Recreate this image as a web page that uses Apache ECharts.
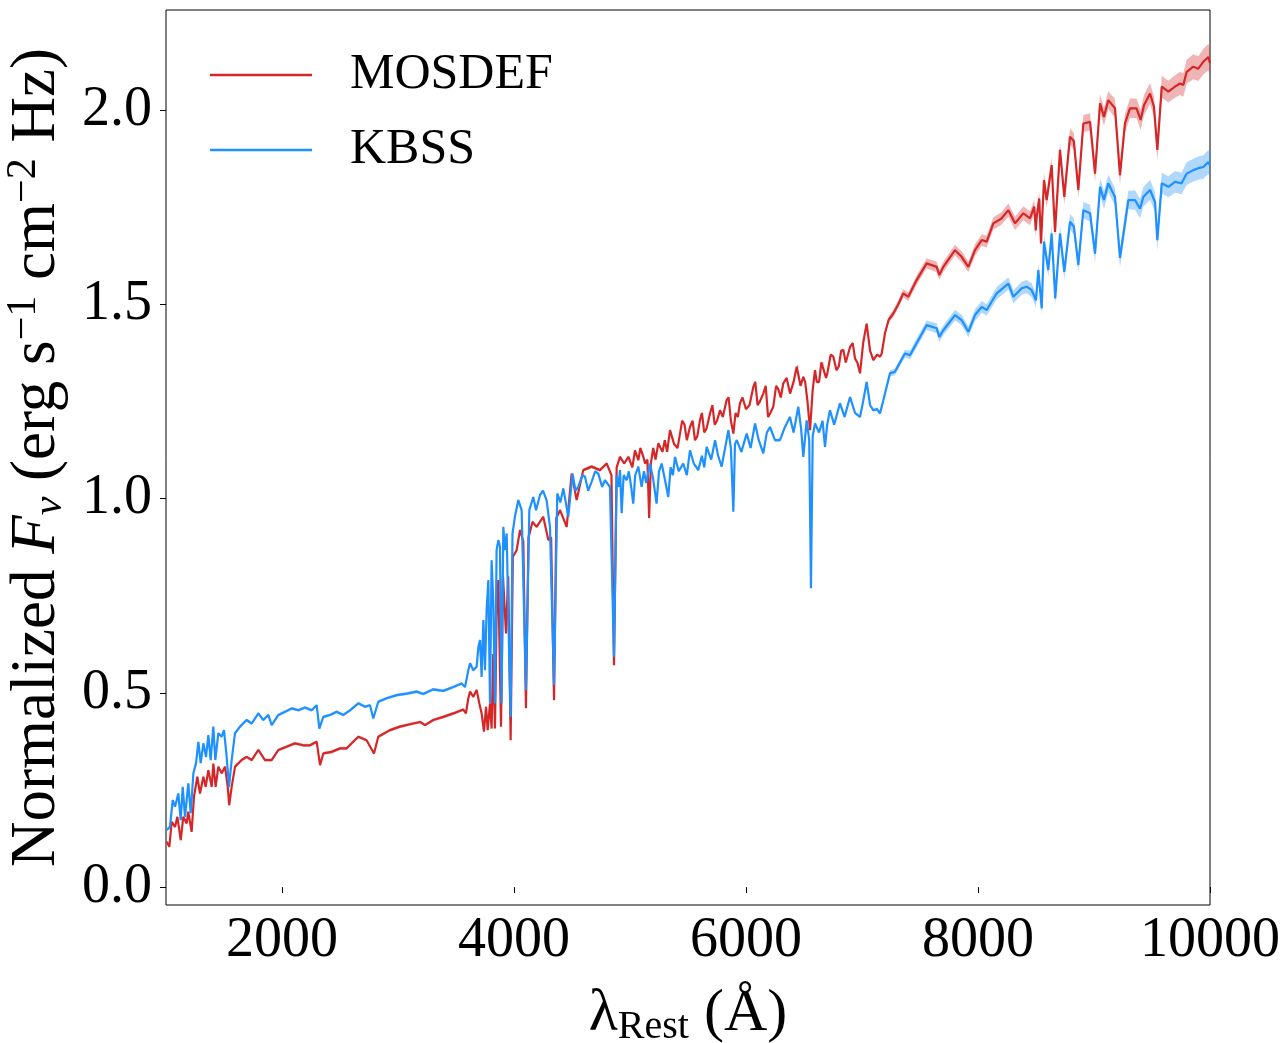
<!DOCTYPE html>
<html><head><meta charset="utf-8">
<script src="https://cdn.jsdelivr.net/npm/echarts@6/dist/echarts.min.js"></script>
<style>html,body{margin:0;padding:0;background:#fff}#c{width:1280px;height:1043px}</style>
</head><body><div id="c"></div>
<script>
// ---- data ----
const seriesNames = ['MOSDEF', 'KBSS'];
const xTicks = [2000, 4000, 6000, 8000, 10000];
const yTicks = [0, 0.5, 1.0, 1.5, 2.0];
// [rest wavelength (Å), normalized F_nu, 1-sigma band half width]
const mosdef = [
[1006,0.117,0.004],[1029,0.104,0.004],[1049,0.168,0.004],[1078,0.155,0.004],[1098,0.181,0.004],[1127,0.121,0.004],
[1149,0.181,0.004],[1178,0.164,0.004],[1192,0.194,0.004],[1221,0.142,0.004],[1241,0.232,0.004],[1270,0.284,0.004],
[1293,0.241,0.004],[1322,0.284,0.004],[1342,0.258,0.004],[1365,0.301,0.004],[1394,0.258,0.004],[1408,0.318,0.004],
[1428,0.258,0.004],[1451,0.31,0.004],[1480,0.293,0.004],[1509,0.31,0.004],[1532,0.258,0.004],[1545,0.211,0.004],
[1566,0.258,0.004],[1595,0.31,0.004],[1652,0.327,0.004],[1695,0.335,0.004],[1739,0.327,0.004],[1796,0.353,0.004],
[1853,0.327,0.004],[1911,0.327,0.004],[1969,0.353,0.004],[2039,0.361,0.004],[2112,0.37,0.004],[2184,0.365,0.004],
[2241,0.365,0.004],[2299,0.374,0.004],[2328,0.314,0.004],[2356,0.344,0.004],[2428,0.348,0.004],[2500,0.357,0.004],
[2557,0.357,0.004],[2601,0.37,0.004],[2658,0.387,0.004],[2729,0.378,0.004],[2793,0.344,0.004],[2830,0.387,0.004],
[2931,0.404,0.004],[3017,0.413,0.004],[3103,0.419,0.004],[3190,0.425,0.004],[3233,0.417,0.004],[3304,0.43,0.004],
[3391,0.438,0.004],[3477,0.447,0.004],[3563,0.457,0.004],[3586,0.447,0.004],[3606,0.486,0.004],[3621,0.503,0.004],
[3649,0.49,0.004],[3678,0.507,0.004],[3701,0.473,0.004],[3721,0.447,0.004],[3741,0.40,0.004],[3759,0.464,0.004],
[3773,0.404,0.004],[3793,0.473,0.004],[3807,0.408,0.004],[3821,0.60,0.004],[3836,0.408,0.004],[3850,0.70,0.004],
[3865,0.79,0.004],[3888,0.413,0.004],[3905,0.80,0.004],[3931,0.653,0.004],[3950,0.80,0.004],[3971,0.378,0.004],
[3990,0.85,0.004],[4023,0.867,0.004],[4052,0.919,0.004],[4080,0.89,0.004],[4103,0.46,0.004],[4125,0.90,0.004],
[4160,0.94,0.004],[4195,0.927,0.004],[4252,0.953,0.004],[4296,0.893,0.004],[4320,0.90,0.004],[4345,0.481,0.004],
[4365,0.95,0.004],[4397,0.97,0.004],[4454,0.927,0.004],[4497,1.064,0.004],[4540,0.996,0.004],[4597,1.073,0.004],
[4669,1.082,0.004],[4741,1.073,0.004],[4799,1.09,0.004],[4840,1.06,0.004],[4862,0.571,0.004],[4885,1.08,0.004],
[4914,1.107,0.004],[4950,1.09,0.004],[4986,1.107,0.004],[5000,1.103,0.004],[5020,1.08,0.004],[5043,1.124,0.004],
[5072,1.099,0.004],[5090,1.13,0.004],[5115,1.107,0.004],[5130,1.09,0.004],[5150,1.10,0.004],[5165,0.95,0.004],
[5180,1.09,0.004],[5200,1.13,0.004],[5220,1.10,0.004],[5244,1.142,0.004],[5280,1.12,0.004],[5300,1.15,0.004],
[5320,1.12,0.004],[5345,1.176,0.004],[5380,1.14,0.004],[5410,1.13,0.004],[5431,1.167,0.004],[5450,1.20,0.004],
[5470,1.19,0.004],[5490,1.15,0.004],[5517,1.184,0.004],[5540,1.20,0.004],[5560,1.15,0.004],[5580,1.16,0.004],
[5603,1.201,0.004],[5620,1.22,0.004],[5640,1.17,0.004],[5660,1.18,0.004],[5690,1.219,0.004],[5710,1.24,0.004],
[5730,1.19,0.004],[5750,1.20,0.004],[5776,1.227,0.004],[5800,1.21,0.004],[5833,1.253,0.004],[5850,1.26,0.004],
[5870,1.20,0.004],[5891,1.167,0.004],[5910,1.22,0.004],[5930,1.21,0.004],[5948,1.245,0.004],[5970,1.26,0.004],
[6000,1.23,0.004],[6030,1.24,0.004],[6063,1.287,0.004],[6080,1.30,0.004],[6100,1.24,0.004],[6120,1.25,0.004],
[6149,1.27,0.004],[6170,1.29,0.004],[6190,1.21,0.004],[6210,1.22,0.004],[6235,1.236,0.004],[6260,1.29,0.004],
[6280,1.28,0.004],[6300,1.26,0.004],[6321,1.296,0.004],[6350,1.31,0.004],[6380,1.27,0.004],[6410,1.30,0.004],
[6437,1.339,0.004],[6450,1.34,0.004],[6470,1.29,0.004],[6494,1.313,0.004],[6510,1.30,0.004],[6530,1.25,0.004],
[6552,1.176,0.004],[6575,1.28,0.004],[6595,1.33,0.004],[6610,1.30,0.004],[6630,1.30,0.004],[6650,1.35,0.004],
[6667,1.347,0.004],[6690,1.31,0.004],[6700,1.32,0.004],[6730,1.37,0.004],[6753,1.365,0.004],[6780,1.33,0.004],
[6800,1.34,0.004],[6820,1.38,0.004],[6839,1.382,0.004],[6860,1.35,0.004],[6897,1.39,0.004],[6920,1.40,0.004],
[6940,1.36,0.004],[6960,1.35,0.004],[6983,1.322,0.004],[7010,1.40,0.004],[7040,1.45,0.004],[7070,1.38,0.004],
[7098,1.356,0.004],[7130,1.37,0.004],[7155,1.365,0.004],[7170,1.373,0.004],
[7198,1.425,0.006],[7230,1.46,0.008],[7270,1.476,0.009],[7313,1.50,0.01],[7356,1.528,0.011],[7399,1.519,0.011],
[7471,1.562,0.012],[7557,1.605,0.013],[7644,1.596,0.013],[7666,1.575,0.013],[7701,1.596,0.013],[7802,1.639,0.014],
[7859,1.622,0.014],[7917,1.596,0.014],[7974,1.639,0.015],[8032,1.665,0.015],[8075,1.661,0.015],[8132,1.708,0.016],
[8200,1.72,0.016],[8262,1.742,0.017],[8319,1.708,0.017],[8391,1.734,0.018],[8448,1.721,0.018],[8485,1.751,0.018],
[8498,1.69,0.018],[8506,1.725,0.018],[8528,1.772,0.019],[8543,1.656,0.019],[8569,1.819,0.019],[8592,1.768,0.019],
[8635,1.858,0.02],[8664,1.686,0.02],[8707,1.897,0.02],[8744,1.776,0.02],[8793,1.931,0.021],[8826,1.92,0.021],
[8865,1.794,0.021],[8908,1.965,0.022],[8966,1.969,0.022],[9009,1.836,0.022],[9052,2.017,0.023],[9086,1.982,0.023],
[9123,2.025,0.023],[9181,2.004,0.024],[9224,1.832,0.024],[9267,1.965,0.024],[9310,2.004,0.025],[9367,2.004,0.025],
[9402,1.974,0.026],[9431,2.012,0.026],[9483,2.042,0.027],[9517,2.008,0.027],[9546,1.897,0.027],[9584,2.06,0.028],
[9641,2.047,0.028],[9698,2.06,0.029],[9741,2.068,0.03],[9770,2.064,0.03],[9799,2.098,0.031],[9856,2.111,0.032],
[9899,2.106,0.032],[9943,2.124,0.033],[9986,2.136,0.034],[10000,2.12,0.034]
];
const kbss = [
[1006,0.147,0.004],[1034,0.155,0.004],[1058,0.224,0.004],[1078,0.207,0.004],[1106,0.241,0.004],[1127,0.172,0.004],
[1144,0.258,0.004],[1164,0.181,0.004],[1192,0.267,0.004],[1213,0.19,0.004],[1236,0.293,0.004],[1259,0.319,0.004],
[1279,0.374,0.004],[1299,0.319,0.004],[1322,0.37,0.004],[1345,0.335,0.004],[1365,0.391,0.004],[1385,0.327,0.004],
[1408,0.413,0.004],[1425,0.327,0.004],[1451,0.396,0.004],[1480,0.387,0.004],[1500,0.404,0.004],[1523,0.335,0.004],
[1543,0.258,0.004],[1566,0.327,0.004],[1595,0.396,0.004],[1638,0.413,0.004],[1695,0.43,0.004],[1739,0.421,0.004],
[1796,0.447,0.004],[1839,0.43,0.004],[1882,0.443,0.004],[1911,0.417,0.004],[1969,0.443,0.004],[2026,0.451,0.004],
[2084,0.46,0.004],[2141,0.455,0.004],[2198,0.462,0.004],[2256,0.455,0.004],[2299,0.468,0.004],[2322,0.408,0.004],
[2356,0.438,0.004],[2414,0.443,0.004],[2471,0.451,0.004],[2529,0.443,0.004],[2586,0.455,0.004],[2658,0.473,0.004],
[2716,0.464,0.004],[2759,0.468,0.004],[2787,0.434,0.004],[2830,0.477,0.004],[2902,0.486,0.004],[2989,0.494,0.004],
[3075,0.498,0.004],[3161,0.503,0.004],[3218,0.497,0.004],[3304,0.509,0.004],[3391,0.505,0.004],[3477,0.515,0.004],
[3549,0.524,0.004],[3578,0.515,0.004],[3606,0.558,0.004],[3621,0.576,0.004],[3649,0.558,0.004],[3678,0.567,0.004],
[3693,0.618,0.004],[3707,0.636,0.004],[3721,0.541,0.004],[3736,0.687,0.004],[3750,0.558,0.004],[3764,0.713,0.004],
[3779,0.79,0.004],[3793,0.473,0.004],[3807,0.841,0.004],[3821,0.738,0.004],[3836,0.473,0.004],[3850,0.867,0.004],
[3865,0.893,0.004],[3879,0.876,0.004],[3893,0.473,0.004],[3908,0.927,0.004],[3922,0.867,0.004],[3937,0.91,0.004],
[3951,0.695,0.004],[3971,0.438,0.004],[3987,0.91,0.004],[4008,0.953,0.004],[4037,0.996,0.004],[4066,0.97,0.004],
[4103,0.507,0.004],[4132,0.97,0.004],[4166,1.004,0.004],[4190,0.97,0.004],[4224,1.009,0.004],[4250,1.02,0.004],
[4281,0.996,0.004],[4310,0.927,0.004],[4345,0.52,0.004],[4373,1.013,0.004],[4400,0.99,0.004],[4425,1.026,0.004],
[4468,0.953,0.004],[4505,1.064,0.004],[4530,1.02,0.004],[4554,1.03,0.004],[4590,1.06,0.004],[4612,1.056,0.004],
[4640,1.02,0.004],[4669,1.043,0.004],[4700,1.07,0.004],[4727,1.064,0.004],[4760,1.03,0.004],[4784,1.047,0.004],
[4827,1.03,0.004],[4862,0.593,0.004],[4885,1.06,0.004],[4900,1.03,0.004],[4914,1.073,0.004],[4928,0.962,0.004],
[4945,1.06,0.004],[4971,1.047,0.004],[4990,1.07,0.004],[5010,1.03,0.004],[5028,0.987,0.004],[5045,1.06,0.004],
[5072,1.082,0.004],[5100,1.03,0.004],[5120,1.07,0.004],[5140,1.04,0.004],[5172,1.09,0.004],[5200,1.05,0.004],
[5229,0.987,0.004],[5250,1.07,0.004],[5273,1.09,0.004],[5300,1.05,0.004],[5330,1.004,0.004],[5350,1.08,0.004],
[5370,1.06,0.004],[5388,1.107,0.004],[5420,1.07,0.004],[5459,1.09,0.004],[5490,1.06,0.004],[5517,1.124,0.004],
[5550,1.09,0.004],[5589,1.073,0.004],[5620,1.11,0.004],[5640,1.08,0.004],[5661,1.133,0.004],[5700,1.10,0.004],
[5733,1.15,0.004],[5760,1.11,0.004],[5790,1.082,0.004],[5820,1.13,0.004],[5848,1.176,0.004],[5870,1.13,0.004],
[5891,0.966,0.004],[5905,1.14,0.004],[5920,1.15,0.004],[5960,1.12,0.004],[6006,1.167,0.004],[6040,1.13,0.004],
[6078,1.193,0.004],[6110,1.15,0.004],[6149,1.116,0.004],[6180,1.17,0.004],[6207,1.184,0.004],[6250,1.15,0.004],
[6293,1.15,0.004],[6330,1.18,0.004],[6379,1.21,0.004],[6410,1.17,0.004],[6451,1.236,0.004],[6475,1.18,0.004],
[6494,1.107,0.004],[6523,1.201,0.004],[6545,1.15,0.004],[6560,0.769,0.004],[6575,1.16,0.004],[6595,1.193,0.004],
[6630,1.17,0.004],[6660,1.20,0.004],[6681,1.133,0.004],[6700,1.19,0.004],[6724,1.227,0.004],[6760,1.19,0.004],
[6810,1.245,0.004],[6850,1.21,0.004],[6897,1.261,0.004],[6940,1.22,0.004],[6983,1.21,0.004],[7010,1.25,0.004],
[7040,1.30,0.004],[7070,1.24,0.004],[7098,1.227,0.004],[7130,1.23,0.004],[7155,1.219,0.004],
[7184,1.253,0.006],[7241,1.322,0.008],
[7284,1.326,0.009],[7370,1.373,0.01],[7414,1.369,0.011],[7486,1.408,0.012],[7557,1.446,0.012],[7644,1.438,0.013],
[7666,1.416,0.013],[7701,1.433,0.013],[7802,1.472,0.014],[7859,1.459,0.014],[7917,1.429,0.014],[7974,1.472,0.015],
[8032,1.493,0.015],[8075,1.485,0.015],[8161,1.528,0.016],[8262,1.553,0.016],[8305,1.519,0.017],[8377,1.541,0.017],
[8420,1.545,0.017],[8463,1.536,0.018],[8500,1.51,0.018],[8520,1.588,0.018],[8549,1.489,0.018],[8569,1.661,0.019],
[8606,1.588,0.019],[8635,1.682,0.019],[8666,1.515,0.019],[8707,1.682,0.02],[8744,1.583,0.02],[8793,1.712,0.02],
[8826,1.70,0.021],[8865,1.601,0.021],[8908,1.742,0.021],[8966,1.734,0.022],[9009,1.63,0.022],[9052,1.802,0.022],
[9086,1.768,0.023],[9123,1.811,0.023],[9181,1.776,0.023],[9224,1.619,0.024],[9296,1.768,0.024],[9353,1.768,0.025],
[9397,1.746,0.025],[9425,1.776,0.025],[9483,1.794,0.026],[9526,1.763,0.026],[9546,1.665,0.026],[9584,1.811,0.027],
[9641,1.802,0.027],[9698,1.815,0.028],[9755,1.811,0.028],[9799,1.836,0.029],[9856,1.845,0.029],[9899,1.85,0.03],
[9943,1.853,0.03],[9986,1.866,0.031],[10000,1.857,0.031]
];

// ---- chart ----
const FONT = '"Liberation Serif", "DejaVu Serif", serif';
const RED = '#d62728', BLUE = '#1e90ff';
const chart = echarts.init(document.getElementById('c'), null, {renderer: 'canvas'});

function band(arr, color, z) {
  return {
    type: 'custom', silent: true, z: z, clip: true,
    data: [[arr[0][0], arr[0][1]]],
    renderItem: function (params, api) {
      const up = arr.map(d => api.coord([d[0], d[1] + d[2]]));
      const lo = arr.slice().reverse().map(d => api.coord([d[0], d[1] - d[2]]));
      return {type: 'polygon', shape: {points: up.concat(lo)}, style: {fill: color}};
    }
  };
}
function line(name, arr, color, z) {
  return {
    type: 'line', name: name, z: z, showSymbol: false, symbol: 'none',
    data: arr.map(d => [d[0], d[1]]),
    lineStyle: {color: color, width: 2.2}, itemStyle: {color: color},
    emphasis: {disabled: true}, animation: false
  };
}

chart.setOption({
  animation: false,
  backgroundColor: '#fff',
  grid: {left: 166, right: 70, top: 10, bottom: 138, outerBoundsMode: 'none', containLabel: false,
         show: true, borderColor: '#000', borderWidth: 1, backgroundColor: 'transparent'},
  legend: {
    data: seriesNames, orient: 'vertical', left: 210, top: 47, padding: 0, itemGap: 19,
    icon: 'rect', itemWidth: 102, itemHeight: 2.5,
    textStyle: {fontFamily: FONT, fontSize: 50, color: '#000', lineHeight: 56, padding: [0, 0, 0, 33]}
  },
  xAxis: {
    type: 'value', min: 1000, max: 10000,
    axisLine: {show: false},
    axisTick: {show: true, customValues: xTicks, length: 6, lineStyle: {color: '#000', width: 1}},
    axisLabel: {customValues: xTicks, showMaxLabel: true, showMinLabel: true, fontFamily: FONT, fontSize: 56,
                color: '#000', margin: 8, formatter: v => String(v)},
    splitLine: {show: false},
    name: '{l|λ}{s|Rest}{l| (Å)}', nameLocation: 'middle', nameGap: 76,
    nameTextStyle: {rich: {
      l: {fontFamily: FONT, fontSize: 60, color: '#000', lineHeight: 66},
      s: {fontFamily: FONT, fontSize: 40, color: '#000', lineHeight: 34, verticalAlign: 'bottom'}
    }}
  },
  yAxis: {
    type: 'value', min: -0.046, max: 2.257,
    axisLine: {show: false},
    axisTick: {show: true, customValues: yTicks, length: 6, lineStyle: {color: '#000', width: 1}},
    axisLabel: {customValues: yTicks, fontFamily: FONT, fontSize: 56, color: '#000', margin: 14, formatter: v => v.toFixed(1)},
    splitLine: {show: false},
    name: '{n|Normalized }{f|F}{b|ν}{n| (erg s}{p|−1}{n| cm}{p|−2}{n| Hz)}',
    nameLocation: 'middle', nameRotate: 90, nameGap: 88,
    nameTextStyle: {rich: {
      n: {fontFamily: FONT, fontSize: 63, color: '#000', lineHeight: 68},
      f: {fontFamily: FONT, fontSize: 63, color: '#000', lineHeight: 68, fontStyle: 'italic'},
      b: {fontFamily: FONT, fontSize: 42, color: '#000', lineHeight: 32, verticalAlign: 'bottom', fontStyle: 'italic'},
      p: {fontFamily: FONT, fontSize: 42, color: '#000', lineHeight: 32, verticalAlign: 'top'}
    }}
  },
  series: [
    band(mosdef, 'rgba(214,39,40,0.35)', 1),
    band(kbss, 'rgba(30,144,255,0.35)', 1),
    line('MOSDEF', mosdef, RED, 2),
    line('KBSS', kbss, BLUE, 3)
  ]
});
</script>
</body></html>
